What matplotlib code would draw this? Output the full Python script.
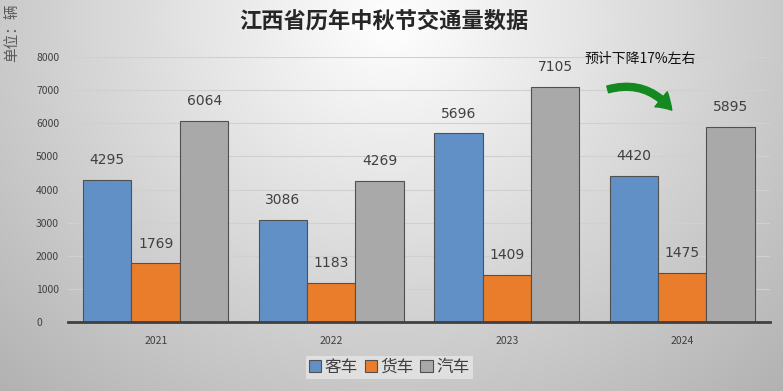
import numpy as np
import matplotlib
matplotlib.use("Agg")
import matplotlib.pyplot as plt
from matplotlib.patches import FancyArrowPatch

plt.rcParams['font.family'] = ['Noto Sans CJK SC', 'DejaVu Sans']

years = ['2021', '2022', '2023', '2024']
keche = [4295, 3086, 5696, 4420]
huoche = [1769, 1183, 1409, 1475]
qiche = [6064, 4269, 7105, 5895]
series_names = ['客车', '货车', '汽车']
colors = ['#6190c6', '#e97d2c', '#a9a9a9']

fig = plt.figure(figsize=(7.83, 3.91), dpi=100)

# background gradient
bg = fig.add_axes([0, 0, 1, 1], zorder=-10)
yy, xx = np.mgrid[0:1:200j, 0:1:400j]
d = np.sqrt(((xx - 0.5) / 0.72) ** 2 + ((yy - 0.05) / 1.3) ** 2)
shade = 1.0 - 0.3 * np.clip(d, 0, 1.2)
bg.imshow(np.dstack([shade] * 3), aspect='auto', extent=[0, 1, 1, 0])
bg.set_axis_off()

ax = fig.add_axes([0.0868, 0.1765, 0.8966, 0.6775])
ax.patch.set_alpha(0)

x = np.arange(len(years))
w = 0.276
for i, (vals, c) in enumerate(zip([keche, huoche, qiche], colors)):
    pos = x + (i - 1) * w
    ax.bar(pos, vals, width=w, color=c, edgecolor='#505050', linewidth=0.8,
           label=series_names[i], zorder=3)
    for p, v in zip(pos, vals):
        ax.text(p, v + 600, str(v), ha='center', va='center', fontsize=10,
                color='#404040', family=['DejaVu Sans'])

ax.set_xlim(-0.5, 3.5)
ax.set_ylim(0, 8000)
ax.set_yticks(range(0, 8001, 1000))
ax.set_xticks(x)
ax.set_xticklabels(years)
ax.tick_params(axis='both', length=0, labelsize=7.5, colors='#404040')
ax.tick_params(axis='x', pad=10)
ax.tick_params(axis='y', pad=23)
for lab in ax.get_yticklabels():
    lab.set_ha('left')
ax.grid(axis='y', color='#d0d0d0', linewidth=0.8, zorder=0)
for s in ['top', 'right', 'left']:
    ax.spines[s].set_visible(False)
ax.spines['bottom'].set_color('#404040')
ax.spines['bottom'].set_linewidth(2)
ax.spines['bottom'].set_zorder(4)

fig.text(0.49, 0.945, '江西省历年中秋节交通量数据', ha='center', va='center',
         fontsize=16, fontweight='bold', color='#262626')
fig.text(0.015, 0.99, '单位：辆', rotation=90, ha='center', va='top',
         fontsize=10.5, color='#595959')

ax.text(2.44, 7940, '预计下降17%左右', ha='left', va='center', fontsize=10, color='#111111')
arrow = FancyArrowPatch((2.56, 7000), (2.95, 6330), connectionstyle='arc3,rad=-0.35',
                        arrowstyle='simple,head_width=14,head_length=11,tail_width=5',
                        color='#14891f', zorder=5)
ax.add_patch(arrow)

leg = fig.legend(loc='center', bbox_to_anchor=(0.497, 0.06), ncol=3, frameon=True,
                 fontsize=12, handlelength=0.75, handleheight=0.75, handletextpad=0.2,
                 columnspacing=0.4, borderpad=0.2, fancybox=False)
leg.get_frame().set_facecolor('#e6e6e6')
leg.get_frame().set_edgecolor('none')
for t in leg.get_texts():
    t.set_color('#404040')

fig.savefig('out.png', dpi=100)
